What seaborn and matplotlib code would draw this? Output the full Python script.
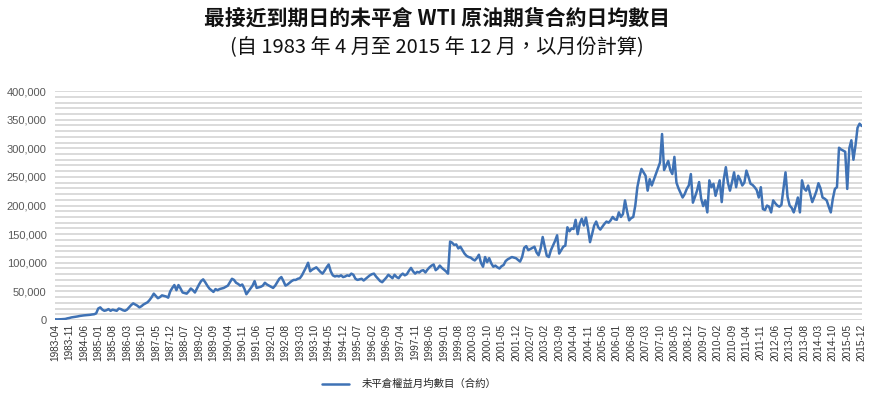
"""
plot.py — 最接近到期日的未平倉 WTI 原油期貨合約日均數目 (1983-04 .. 2015-12)
"""

import matplotlib
matplotlib.use("Agg")
import matplotlib.pyplot as plt
from matplotlib.ticker import FuncFormatter, MultipleLocator
import numpy as np
import pandas as pd
import seaborn as sns

# ── Data (monthly averages, thousands of contracts) ───────────────────────────

START_YEAR, START_MONTH = 1983, 4

y1983 = [1.2, 1.0, 1.1, 1.3, 1.5, 1.8, 2.8, 3.5, 4.5]
y1984 = [5.0, 5.6, 6.2, 7.0, 7.5, 8.0, 8.3, 8.5, 9.0, 9.6, 10.0, 11.5]
y1985 = [20, 22, 18, 16, 17, 19, 16, 18, 17, 16, 20, 19]
y1986 = [17, 16, 18, 22, 26, 29, 27, 25, 22, 24, 27, 29]
y1987 = [31, 35, 40, 46, 42, 38, 40, 43, 42, 41, 39, 50]
y1988 = [56, 61, 52, 61, 55, 48, 47, 46, 50, 55, 52, 48]
y1989 = [55, 62, 68, 71, 66, 60, 55, 52, 49, 54, 52, 54]
y1990 = [55, 56, 58, 60, 66, 72, 70, 65, 63, 60, 62, 55]
y1991 = [45, 50, 55, 60, 68, 56, 57, 58, 60, 65, 62, 60]
y1992 = [58, 56, 60, 66, 72, 75, 68, 60, 62, 65, 68, 70]
y1993 = [70, 72, 73, 78, 85, 92, 100, 85, 88, 90, 92, 88]
y1994 = [84, 81, 86, 92, 97, 85, 78, 76, 77, 76, 78, 75]
y1995 = [76, 78, 77, 81, 79, 72, 70, 71, 72, 69, 72, 75]
y1996 = [78, 80, 81, 76, 72, 68, 66, 70, 74, 79, 76, 73]
y1997 = [79, 75, 73, 78, 81, 78, 80, 86, 91, 85, 81, 84]
y1998 = [83, 86, 87, 83, 88, 92, 95, 97, 87, 90, 95, 91]
y1999 = [88, 85, 81, 137, 135, 131, 132, 125, 128, 122, 116, 112]
y2000 = [110, 109, 106, 104, 108, 114, 100, 93, 110, 101, 108, 99]
y2001 = [93, 95, 92, 90, 94, 96, 103, 106, 108, 110, 109, 108]
y2002 = [105, 102, 110, 126, 129, 122, 124, 126, 128, 118, 113, 125]
y2003 = [145, 128, 112, 110, 122, 130, 138, 148, 116, 122, 128, 130]
y2004 = [162, 155, 160, 159, 175, 150, 168, 177, 165, 179, 160, 136]
y2005 = [150, 165, 172, 162, 158, 163, 168, 172, 170, 174, 180, 176]
y2006 = [175, 188, 180, 185, 209, 190, 174, 178, 180, 200, 232, 250]
y2007 = [264, 258, 252, 226, 246, 235, 245, 255, 265, 275, 325, 262]
y2008 = [270, 278, 262, 255, 285, 240, 230, 222, 214, 220, 229, 235]
y2009 = [255, 205, 215, 226, 241, 212, 199, 209, 188, 244, 232, 238]
y2010 = [217, 230, 244, 206, 246, 267, 240, 226, 241, 258, 232, 252]
y2011 = [245, 235, 240, 261, 250, 238, 236, 232, 227, 214, 232, 194]
y2012 = [192, 200, 198, 188, 209, 204, 200, 198, 201, 230, 258, 215]
y2013 = [200, 196, 188, 200, 214, 188, 244, 230, 226, 235, 220, 206]
y2014 = [215, 225, 239, 230, 214, 212, 209, 198, 188, 212, 229, 232]
y2015 = [301, 298, 296, 294, 229, 300, 314, 280, 305, 336, 343, 339]

YEARS = [
    y1983, y1984, y1985, y1986, y1987, y1988, y1989, y1990, y1991, y1992,
    y1993, y1994, y1995, y1996, y1997, y1998, y1999, y2000, y2001, y2002,
    y2003, y2004, y2005, y2006, y2007, y2008, y2009, y2010, y2011, y2012,
    y2013, y2014, y2015,
]

TITLE = "最接近到期日的未平倉 WTI 原油期貨合約日均數目"
SUBTITLE = "(自 1983 年 4 月至 2015 年 12 月，以月份計算)"
SERIES_NAME = "未平倉權益月均數目（合約）"
LABEL_STEP = 7  # one x label every 7 months

# ── Build frame ───────────────────────────────────────────────────────────────

values = [v * 1000 for year in YEARS for v in year]
labels = []
y, m = START_YEAR, START_MONTH
for _ in values:
    labels.append(f"{y}-{m:02d}")
    m += 1
    if m > 12:
        y, m = y + 1, 1

df = pd.DataFrame({"idx": np.arange(len(values)), "month": labels, "oi": values})

# ── Plot ──────────────────────────────────────────────────────────────────────

sns.set_theme(style="white")
plt.rcParams["font.family"] = ["Noto Sans CJK TC", "DejaVu Sans"]

fig = plt.figure(figsize=(8.73, 3.96), dpi=100)
ax = fig.add_axes([0.063, 0.192, 0.924, 0.578])

sns.lineplot(data=df, x="idx", y="oi", ax=ax, color="#3f72b5",
             linewidth=1.8, label=SERIES_NAME)

ax.set_xlim(0, len(values) - 1)
ax.set_ylim(0, 400000)
ax.yaxis.set_major_locator(MultipleLocator(50000))
ax.yaxis.set_minor_locator(MultipleLocator(10000))
ax.yaxis.set_major_formatter(FuncFormatter(lambda v, _: f"{int(v):,}"))
ax.grid(axis="y", which="both", color="#d4d4d4", linewidth=1.2)
ax.set_axisbelow(True)
for s in ax.spines.values():
    s.set_visible(False)

ticks = list(range(0, len(values), LABEL_STEP))
ax.set_xticks(ticks)
ax.set_xticklabels([labels[i] for i in ticks], rotation=90,
                   fontsize=7.2, color="#333333", family="Liberation Sans")
ax.tick_params(axis="x", length=0, pad=3)
ax.tick_params(axis="y", length=0, pad=6, labelsize=8, labelcolor="#595959")
for t in ax.get_yticklabels():
    t.set_family("Liberation Sans")
ax.set_xlabel("")
ax.set_ylabel("")

ax.legend(loc="center", bbox_to_anchor=(0.469, 0.03),
          bbox_transform=fig.transFigure, frameon=False, fontsize=7.5,
          handlelength=2.6, handletextpad=1.2)

fig.text(0.5, 0.955, TITLE, ha="center", va="center",
         fontsize=15, fontweight="bold", color="#111111")
fig.text(0.5, 0.88, SUBTITLE, ha="center", va="center",
         fontsize=14.5, color="#111111")

fig.savefig("out.png", dpi=100)
plt.close(fig)
print("saved out.png")
